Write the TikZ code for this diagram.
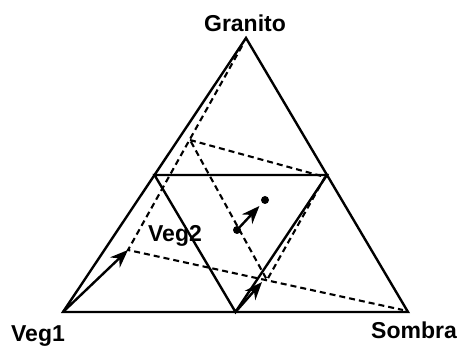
\documentclass[tikz,border=0pt]{standalone}
\usepackage{fontspec}
\setmainfont{Liberation Sans}
\usepackage{tikz}
\usetikzlibrary{arrows.meta, positioning, calc}

\tikzset{
  %% ---- lines ----
  edge/.style     = {line width=2.4pt, line join=miter},
  mixline/.style  = {line width=2.1pt, dash pattern=on 6pt off 4pt},
  %% ---- arrows ----
  arrow/.style    = {-{Stealth[length=18pt, width=14pt]}, line width=2.4pt},
  %% ---- points and labels ----
  dot/.style      = {circle, fill=black, inner sep=0pt, minimum size=8pt},
  vlabel/.style   = {font=\fontsize{23}{26}\selectfont\bfseries, inner sep=0pt},
}

\begin{document}
\begin{tikzpicture}[x=1pt, y=-1pt]

\useasboundingbox (0,0) rectangle (461,347);

%% ── Vertices of the ternary triangle ───────────────────────────────────────
\coordinate (veg1)  at ( 63, 312);
\coordinate (somb)  at (408, 312);
\coordinate (gran)  at (246,  38);

%% ── Edge midpoints (inner triangle) ────────────────────────────────────────
\coordinate (midl)  at (154.5, 175);
\coordinate (midr)  at (327,   175);
\coordinate (midb)  at (235.5, 312);

%% ── Mixing points (dashed) ─────────────────────────────────────────────────
\coordinate (pg)    at (242,  46);
\coordinate (pa)    at (190, 140);
\coordinate (pb)    at (128, 250);
\coordinate (pc)    at (267, 280);
\coordinate (pd)    at (325, 177);
\coordinate (ps)    at (403, 310);

%% ── Dots and arrow ends ────────────────────────────────────────────────────
\node[dot] (dota) at (237, 230) {};
\node[dot] (dotb) at (265, 200) {};
\coordinate (tipc)  at (262, 282);

%% ── Labels ─────────────────────────────────────────────────────────────────
\node[vlabel] (lgran) at (245,  23) {Granito};
\node[vlabel] (lveg1) at ( 38, 336) {Veg1};
\node[vlabel] (lsomb) at (414, 330) {Sombra};
\node[vlabel] (lveg2) at (175, 236) {Veg2};

%% ── Triangles ──────────────────────────────────────────────────────────────
\draw[edge] (veg1) -- (somb) -- (gran) -- cycle;
\draw[edge] (midl) -- (midr) -- (midb) -- cycle;

%% ── Dashed mixing lines ────────────────────────────────────────────────────
\draw[mixline] (pg) -- (pb) -- (ps);
\draw[mixline] (pa) -- (pd) -- (pc) -- (pa);

%% ── Arrows ─────────────────────────────────────────────────────────────────
\draw[arrow] (veg1) -- (pb);
\draw[arrow] (midb) -- (tipc);
\draw[arrow] (dota.center) -- ($(dota)!0.8!(dotb)$);

\end{tikzpicture}
\end{document}
